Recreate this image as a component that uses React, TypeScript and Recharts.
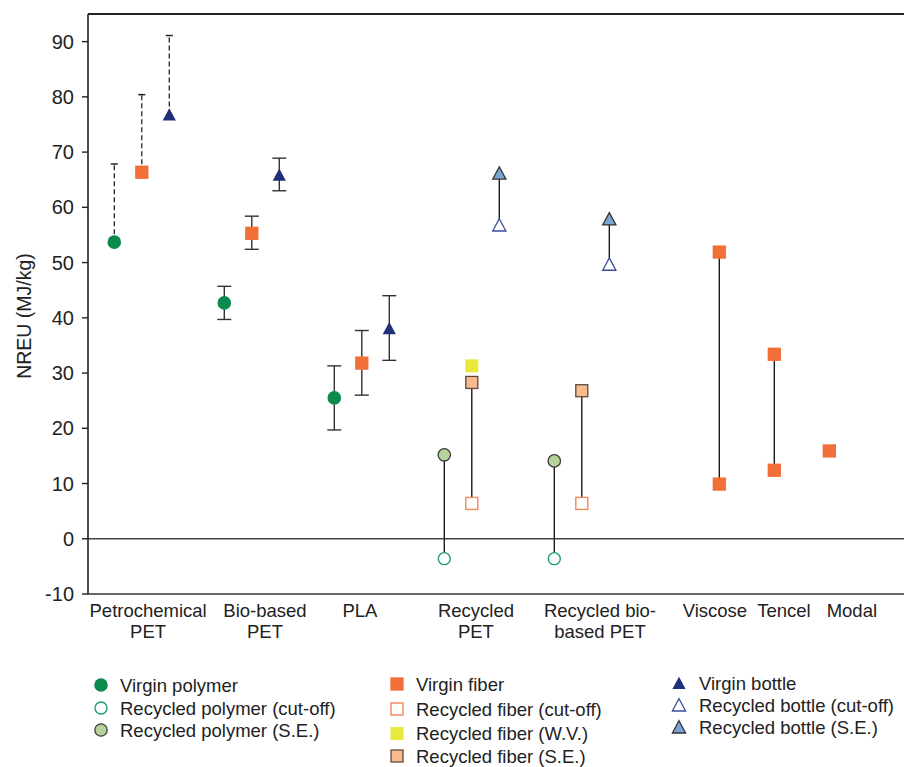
import React from 'react';
import { ComposedChart, Scatter, XAxis, YAxis, ErrorBar, ReferenceLine } from 'recharts';

const FONT = '"Liberation Sans", Arial, Helvetica, sans-serif';

// ---------- categories / tick labels ----------
const categoryLabels: string[][] = [
  ['Petrochemical', 'PET'],
  ['Bio-based', 'PET'],
  ['PLA'],
  ['Recycled', 'PET'],
  ['Recycled bio-', 'based PET'],
  ['Viscose'],
  ['Tencel'],
  ['Modal'],
];
const categoryTickPos = [2.23, 6.48, 9.93, 14.15, 18.66, 22.84, 25.35, 27.82];
const yTicks = [-10, 0, 10, 20, 30, 40, 50, 60, 70, 80, 90];

// ---------- virgin materials (Petrochemical PET, Bio-based PET, PLA) ----------
const virginDashed = [true, false, false];

const virginPolymerX = [1, 5, 9];
const virginPolymerY = [53.7, 42.7, 25.5];
const virginPolymerLow = [53.7, 39.7, 19.7];
const virginPolymerHigh = [67.85, 45.7, 31.3];

const virginFiberX = [2, 6, 10];
const virginFiberY = [66.35, 55.3, 31.8];
const virginFiberLow = [66.35, 52.4, 26.0];
const virginFiberHigh = [80.4, 58.4, 37.7];

const virginBottleX = [3, 7, 11];
const virginBottleY = [76.8, 65.9, 38.1];
const virginBottleLow = [76.8, 63.0, 32.3];
const virginBottleHigh = [91.1, 68.9, 44.0];

// ---------- recycled (Recycled PET, Recycled bio-based PET) ----------
const recycledPolymerX = [13, 17];
const recycledPolymerCutoff = [-3.6, -3.6];
const recycledPolymerSE = [15.2, 14.1];

const recycledFiberX = [14, 18];
const recycledFiberCutoff = [6.4, 6.4];
const recycledFiberSE = [28.3, 26.8];
const recycledFiberWVX = [14];
const recycledFiberWV = [31.3];

const recycledBottleX = [15, 19];
const recycledBottleCutoff = [56.8, 49.7];
const recycledBottleSE = [66.2, 57.9];

// ---------- cellulosic fibers (Viscose, Tencel, Modal) ----------
const cellulosicX = [23, 25, 27];
const cellulosicHigh = [51.9, 33.4, 15.9];
const cellulosicLow: (number | null)[] = [9.9, 12.4, null];

// ---------- derived tables ----------
type Pt = { x: number; y: number; err?: [number, number] };
const pts = (xs: number[], ys: number[]): Pt[] => xs.map((x, i) => ({ x, y: ys[i] }));

const virginSets = [
  { xs: virginPolymerX, ys: virginPolymerY, lo: virginPolymerLow, hi: virginPolymerHigh },
  { xs: virginFiberX, ys: virginFiberY, lo: virginFiberLow, hi: virginFiberHigh },
  { xs: virginBottleX, ys: virginBottleY, lo: virginBottleLow, hi: virginBottleHigh },
];

const solidBars: Pt[] = [];
const dashedLines: Pt[][] = [];
const dashedCaps: Pt[] = [];
virginSets.forEach((s) => {
  s.xs.forEach((x, i) => {
    if (virginDashed[i]) {
      dashedLines.push([{ x, y: s.ys[i] }, { x, y: s.hi[i] }]);
      dashedCaps.push({ x, y: s.hi[i] });
    } else {
      solidBars.push({ x, y: s.ys[i], err: [s.ys[i] - s.lo[i], s.hi[i] - s.ys[i]] });
    }
  });
});

const connectors: Pt[][] = [];
const addConnectors = (xs: number[], a: (number | null)[], b: number[]) =>
  xs.forEach((x, i) => {
    const lo = a[i];
    if (lo !== null && lo !== undefined) connectors.push([{ x, y: lo }, { x, y: b[i] }]);
  });
addConnectors(recycledPolymerX, recycledPolymerCutoff, recycledPolymerSE);
addConnectors(recycledFiberX, recycledFiberCutoff, recycledFiberSE);
addConnectors(recycledBottleX, recycledBottleCutoff, recycledBottleSE);
addConnectors(cellulosicX, cellulosicLow, cellulosicHigh);

const cellulosicPts: Pt[] = [
  ...pts(cellulosicX, cellulosicHigh),
  ...cellulosicX
    .map((x, i) => ({ x, y: cellulosicLow[i] as number }))
    .filter((p) => p.y !== null),
];

// ---------- marker drawing ----------
const sq = (cx: number, cy: number, s: number, fill: string, stroke?: string, sw = 1.3) => (
  <rect x={cx - s / 2} y={cy - s / 2} width={s} height={s} fill={fill} stroke={stroke || 'none'} strokeWidth={sw} />
);
const tri = (cx: number, cy: number, fill: string, stroke?: string, sw = 1.3) => (
  <path
    d={`M${cx},${cy - 6.3} L${cx + 6.6},${cy + 6} L${cx - 6.6},${cy + 6} Z`}
    fill={fill}
    stroke={stroke || 'none'}
    strokeWidth={sw}
    strokeLinejoin="miter"
  />
);

const markers: Record<string, (cx: number, cy: number) => React.ReactElement> = {
  virginPolymer: (cx, cy) => <circle cx={cx} cy={cy} r={6.8} fill="#0b8a4e" />,
  recycledPolymerCutoff: (cx, cy) => <circle cx={cx} cy={cy} r={6} fill="#fff" stroke="#1e9e6e" strokeWidth={1.4} />,
  recycledPolymerSE: (cx, cy) => <circle cx={cx} cy={cy} r={6.2} fill="#b6d39c" stroke="#3c3c3c" strokeWidth={1.3} />,
  virginFiber: (cx, cy) => sq(cx, cy, 13.3, '#f36f38'),
  recycledFiberCutoff: (cx, cy) => sq(cx, cy, 12, '#fff', '#f7875a', 1.4),
  recycledFiberWV: (cx, cy) => sq(cx, cy, 13, '#e9e83c'),
  recycledFiberSE: (cx, cy) => sq(cx, cy, 12, '#f9bb8c', '#5a4a40', 1.3),
  virginBottle: (cx, cy) => tri(cx, cy, '#1f2f78'),
  recycledBottleCutoff: (cx, cy) => tri(cx, cy, '#fff', '#3b4d9c', 1.3),
  recycledBottleSE: (cx, cy) => tri(cx, cy, '#79a6d0', '#333', 1.3),
};

const shapeOf = (key: string) => (props: any) => {
  if (props == null || props.cx == null || props.cy == null) return <g />;
  return markers[key](props.cx, props.cy);
};
const Empty = () => <g />;
const Cap = (props: any) => {
  if (props == null || props.cx == null) return <g />;
  return <line x1={props.cx - 3.5} x2={props.cx + 3.5} y1={props.cy} y2={props.cy} stroke="#222" strokeWidth={1.5} />;
};

const CategoryTick = (props: any) => {
  const { x, y, index } = props;
  const lines = categoryLabels[index] || [];
  return (
    <text x={x} y={y} textAnchor="middle" fill="#222" fontSize={18.5} fontFamily={FONT}>
      {lines.map((l, i) => (
        <tspan key={i} x={x} y={y + 23 + i * 20.5}>
          {l}
        </tspan>
      ))}
    </text>
  );
};

// ---------- legend ----------
const legendCols = [
  { mx: 101, tx: 120, items: [
    { key: 'virginPolymer', label: 'Virgin polymer', y: 685 },
    { key: 'recycledPolymerCutoff', label: 'Recycled polymer (cut-off)', y: 708 },
    { key: 'recycledPolymerSE', label: 'Recycled polymer (S.E.)', y: 730 },
  ] },
  { mx: 397, tx: 416, items: [
    { key: 'virginFiber', label: 'Virgin fiber', y: 684 },
    { key: 'recycledFiberCutoff', label: 'Recycled fiber (cut-off)', y: 709 },
    { key: 'recycledFiberWV', label: 'Recycled fiber (W.V.)', y: 733.5 },
    { key: 'recycledFiberSE', label: 'Recycled fiber (S.E.)', y: 756 },
  ] },
  { mx: 679, tx: 699, items: [
    { key: 'virginBottle', label: 'Virgin bottle', y: 683 },
    { key: 'recycledBottleCutoff', label: 'Recycled bottle (cut-off)', y: 705 },
    { key: 'recycledBottleSE', label: 'Recycled bottle (S.E.)', y: 727 },
  ] },
];

export default function App() {
  return (
    <div style={{ position: 'fixed', left: 0, top: 0, width: 904, height: 767, background: '#fff', overflow: 'hidden' }}>
      <ComposedChart width={904} height={660} margin={{ top: 14, right: 0, bottom: 0, left: 0 }}>
        <XAxis
          type="number"
          dataKey="x"
          domain={[0.044, 29.716]}
          allowDataOverflow
          ticks={categoryTickPos}
          interval={0}
          tick={<CategoryTick />}
          tickLine={false}
          tickSize={0}
          tickMargin={0}
          height={66}
          axisLine={{ stroke: '#333', strokeWidth: 1.4 }}
        />
        <YAxis
          type="number"
          dataKey="y"
          domain={[-10, 95]}
          allowDataOverflow
          ticks={yTicks}
          interval={0}
          width={88}
          tickSize={6}
          tickMargin={8}
          tick={{ fill: '#222', fontSize: 20, fontFamily: FONT }}
          tickLine={{ stroke: '#222', strokeWidth: 1.4 }}
          axisLine={{ stroke: '#222', strokeWidth: 1.6 }}
        />
        <ReferenceLine y={95} stroke="#222" strokeWidth={2} ifOverflow="visible" />
        <ReferenceLine y={0} stroke="#444" strokeWidth={1.3} />

        {/* whiskers */}
        <Scatter data={solidBars} shape={Empty} isAnimationActive={false}>
          <ErrorBar dataKey="err" direction="y" width={7} stroke="#333" strokeWidth={1.4} isAnimationActive={false} />
        </Scatter>
        {dashedLines.map((d, i) => (
          <Scatter
            key={'dl' + i}
            data={d}
            shape={Empty}
            line={{ stroke: '#222', strokeWidth: 1.3, strokeDasharray: '5 3' }}
            isAnimationActive={false}
          />
        ))}
        <Scatter data={dashedCaps} shape={Cap} isAnimationActive={false} />
        {connectors.map((d, i) => (
          <Scatter
            key={'cn' + i}
            data={d}
            shape={Empty}
            line={{ stroke: '#1a1a1a', strokeWidth: 1.4 }}
            isAnimationActive={false}
          />
        ))}

        {/* markers */}
        <Scatter data={pts(virginPolymerX, virginPolymerY)} shape={shapeOf('virginPolymer')} isAnimationActive={false} />
        <Scatter data={pts(virginFiberX, virginFiberY)} shape={shapeOf('virginFiber')} isAnimationActive={false} />
        <Scatter data={pts(virginBottleX, virginBottleY)} shape={shapeOf('virginBottle')} isAnimationActive={false} />
        <Scatter data={pts(recycledPolymerX, recycledPolymerCutoff)} shape={shapeOf('recycledPolymerCutoff')} isAnimationActive={false} />
        <Scatter data={pts(recycledPolymerX, recycledPolymerSE)} shape={shapeOf('recycledPolymerSE')} isAnimationActive={false} />
        <Scatter data={pts(recycledFiberX, recycledFiberCutoff)} shape={shapeOf('recycledFiberCutoff')} isAnimationActive={false} />
        <Scatter data={pts(recycledFiberX, recycledFiberSE)} shape={shapeOf('recycledFiberSE')} isAnimationActive={false} />
        <Scatter data={pts(recycledFiberWVX, recycledFiberWV)} shape={shapeOf('recycledFiberWV')} isAnimationActive={false} />
        <Scatter data={pts(recycledBottleX, recycledBottleCutoff)} shape={shapeOf('recycledBottleCutoff')} isAnimationActive={false} />
        <Scatter data={pts(recycledBottleX, recycledBottleSE)} shape={shapeOf('recycledBottleSE')} isAnimationActive={false} />
        <Scatter data={cellulosicPts} shape={shapeOf('virginFiber')} isAnimationActive={false} />
      </ComposedChart>

      <svg
        width={904}
        height={767}
        style={{ position: 'absolute', left: 0, top: 0, pointerEvents: 'none' }}
        fontFamily={FONT}
      >
        <text
          x={31}
          y={316}
          transform="rotate(-90, 31, 316)"
          textAnchor="middle"
          fontSize={19.5}
          fill="#222"
        >
          NREU (MJ/kg)
        </text>
        {legendCols.map((col, ci) => (
          <g key={ci}>
            {col.items.map((it) => (
              <g key={it.key}>
                {markers[it.key](col.mx, it.y)}
                <text x={col.tx} y={it.y + 6.6} fontSize={18.5} fill="#222">
                  {it.label}
                </text>
              </g>
            ))}
          </g>
        ))}
      </svg>
    </div>
  );
}
